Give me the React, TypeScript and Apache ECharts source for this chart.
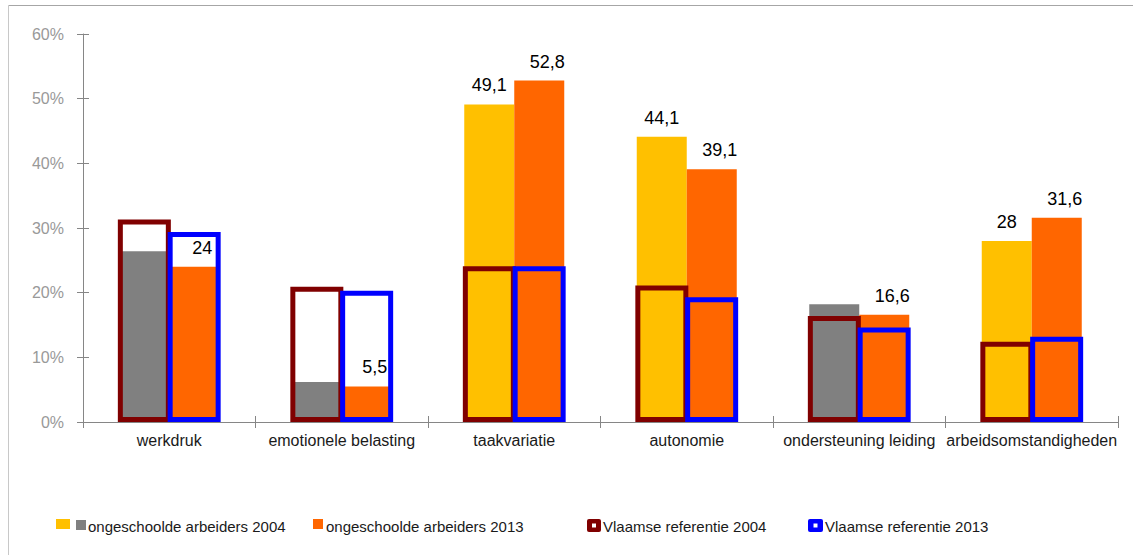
import React, { useEffect, useRef } from "react";
import * as echarts from "echarts";

const categories = [
  "werkdruk",
  "emotionele belasting",
  "taakvariatie",
  "autonomie",
  "ondersteuning leiding",
  "arbeidsomstandigheden",
];
const arbeiders2004 = [26.4, 6.2, 49.1, 44.1, 18.2, 28];
const arbeiders2013 = [24, 5.5, 52.8, 39.1, 16.6, 31.6];
const referentie2004 = [31.3, 20.9, 24.1, 21.1, 16.4, 12.4];
const referentie2013 = [29.4, 20.3, 24.1, 19.3, 14.6, 13.2];
// true = yellow bar with value label, false = grey bar without label
const highlighted2004 = [false, false, true, true, false, true];
const yTicks = [0, 10, 20, 30, 40, 50, 60];

const seriesNames = [
  "ongeschoolde arbeiders 2004",
  "ongeschoolde arbeiders 2013",
  "Vlaamse referentie 2004",
  "Vlaamse referentie 2013",
];

const FONT = "Liberation Sans, Arial, sans-serif";
const YELLOW = "#FFC000";
const GREY = "#808080";
const ORANGE = "#FF6600";
const DARKRED = "#800000";
const BLUE = "#0000FF";
const AXIS = "#868686";

const fmt = (v: number) => String(v).replace(".", ",");

export default function App() {
  const ref = useRef<HTMLDivElement>(null);
  useEffect(() => {
    if (!ref.current) return;
    const chart = echarts.init(ref.current, undefined, { renderer: "svg" });
    const legendY = 519;
    const textY = 526;
    const legendText = (x: number, t: string) => ({
      type: "text",
      x,
      y: textY,
      style: { text: t, font: `15px ${FONT}`, fill: "#1a1a1a", textVerticalAlign: "middle" },
    });
    const option: any = {
      animation: false,
      backgroundColor: "#ffffff",
      grid: { left: 83, right: 16, top: 34, bottom: 133, outerBoundsMode: "none" },
      xAxis: [
        {
          type: "category",
          data: categories,
          axisLine: { lineStyle: { color: AXIS, width: 1 } },
          axisTick: { show: true, length: 6, lineStyle: { color: AXIS } },
          axisLabel: { color: "#1a1a1a", fontSize: 16, fontFamily: FONT, margin: 10, interval: 0 },
        },
        {
          type: "category",
          data: categories,
          position: "bottom",
          axisLine: { show: false },
          axisTick: { show: true, inside: true, length: 6, lineStyle: { color: AXIS } },
          axisLabel: { show: false },
        },
      ],
      yAxis: [
        {
          type: "value",
          min: yTicks[0],
          max: yTicks[yTicks.length - 1],
          interval: 10,
          axisLine: { show: true, lineStyle: { color: AXIS } },
          axisTick: { show: true, length: 6, lineStyle: { color: AXIS } },
          splitLine: { show: false },
          axisLabel: {
            formatter: (v: number) => `${v}%`,
            color: "#999999",
            fontSize: 16,
            fontFamily: FONT,
            margin: 19,
          },
        },
        {
          type: "value",
          min: yTicks[0],
          max: yTicks[yTicks.length - 1],
          interval: 10,
          position: "left",
          axisLine: { show: false },
          axisTick: { show: true, inside: true, length: 6, lineStyle: { color: AXIS } },
          splitLine: { show: false },
          axisLabel: { show: false },
        },
      ],
      series: [
        {
          name: seriesNames[0],
          type: "bar",
          xAxisIndex: 0,
          yAxisIndex: 0,
          barGap: "0%",
          barWidth: 50,
          data: arbeiders2004.map((v, i) => ({
            value: v,
            itemStyle: { color: highlighted2004[i] ? YELLOW : GREY },
            label: {
              show: highlighted2004[i],
              position: "top",
              distance: 10,
              formatter: () => fmt(v),
              color: "#000",
              fontSize: 18,
              fontFamily: FONT,
            },
          })),
        },
        {
          name: seriesNames[1],
          type: "bar",
          xAxisIndex: 0,
          yAxisIndex: 0,
          barGap: "0%",
          barWidth: 50,
          itemStyle: { color: ORANGE },
          label: {
            show: true,
            position: "top",
            distance: 10,
            offset: [8, 0],
            formatter: (p: any) => fmt(p.value),
            color: "#000",
            fontSize: 18,
            fontFamily: FONT,
          },
          data: arbeiders2013,
        },
        {
          name: seriesNames[2],
          type: "bar",
          xAxisIndex: 1,
          yAxisIndex: 0,
          barGap: "-6%",
          barWidth: 53,
          z: 3,
          itemStyle: { color: "rgba(0,0,0,0)", borderColor: DARKRED, borderWidth: 5 },
          data: referentie2004,
        },
        {
          name: seriesNames[3],
          type: "bar",
          xAxisIndex: 1,
          yAxisIndex: 0,
          barGap: "-6%",
          barWidth: 53,
          z: 4,
          itemStyle: { color: "rgba(0,0,0,0)", borderColor: BLUE, borderWidth: 5 },
          data: referentie2013,
        },
      ],
      graphic: [
        { type: "line", shape: { x1: 8.5, y1: 5.5, x2: 1133, y2: 5.5 }, style: { stroke: "#a6a6a6", lineWidth: 1 } },
        { type: "line", shape: { x1: 8.5, y1: 5.5, x2: 8.5, y2: 555 }, style: { stroke: "#c8c8c8", lineWidth: 1 } },
        // legend
        { type: "rect", shape: { x: 56, y: legendY, width: 14, height: 10 }, style: { fill: YELLOW } },
        { type: "rect", shape: { x: 76, y: legendY + 1, width: 10, height: 10 }, style: { fill: GREY } },
        legendText(88, seriesNames[0]),
        { type: "rect", shape: { x: 313, y: legendY, width: 10, height: 10 }, style: { fill: ORANGE } },
        legendText(326, seriesNames[1]),
        { type: "rect", shape: { x: 587, y: legendY, width: 14, height: 13, r: 2 }, style: { fill: DARKRED } },
        { type: "rect", shape: { x: 592, y: legendY + 4.5, width: 4, height: 4 }, style: { fill: "#ffffff" } },
        legendText(603, seriesNames[2]),
        { type: "rect", shape: { x: 808, y: legendY, width: 15, height: 13, r: 2 }, style: { fill: BLUE } },
        { type: "rect", shape: { x: 813.5, y: legendY + 4.5, width: 4, height: 4 }, style: { fill: "#ffffff" } },
        legendText(825, seriesNames[3]),
      ],
    };
    chart.setOption(option);
    return () => chart.dispose();
  }, []);
  return (
    <div
      ref={ref}
      style={{ position: "fixed", left: 0, top: 0, width: 1134, height: 555, background: "#fff" }}
    />
  );
}
